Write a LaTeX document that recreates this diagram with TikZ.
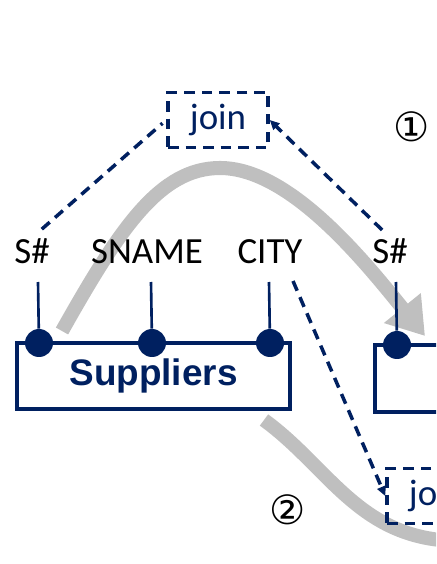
\documentclass[tikz,border=0pt]{standalone}
\usepackage{fontspec}
\setmainfont{Carlito}
\newfontfamily\relfont{Liberation Sans}
\newfontfamily\symfont{DejaVu Sans}
\usetikzlibrary{arrows.meta, positioning}
\definecolor{navy}{RGB}{0,32,96}
\definecolor{flowgray}{RGB}{191,191,191}

\begin{document}
\begin{tikzpicture}[
                  x = 0.02cm, y = -0.02cm,
                  attr/.style    = {font=\fontsize{21}{24}\selectfont, inner sep=0pt, anchor=base},
                  key/.style     = {circle, fill=navy, inner sep=0pt, minimum size=0.56cm},
                  stem/.style    = {navy, line width=1.5pt},
                  rel/.style     = {draw=navy, line width=2pt, text=navy, font=\relfont\bfseries\fontsize{21}{24}\selectfont},
                  joinbox/.style = {draw=navy, line width=2pt, dash pattern=on 6pt off 4pt, text=navy,
                                    font=\fontsize{21}{24}\selectfont, minimum width=2cm, minimum height=1.1cm},
                  link/.style    = {navy, line width=2pt, dash pattern=on 6pt off 4pt},
                  tip/.style     = {-{Triangle[length=5.5pt, width=5pt]}},
                  flow/.style    = {flowgray, line width=8pt, -{Triangle[length=0.72cm, width=0.9cm]}},
                  stepmark/.style = {font=\symfont\fontsize{23}{26}\selectfont, inner sep=0pt}
            ]
            \useasboundingbox (0,0) rectangle (436,564);
            \clip (0,0) rectangle (436,564);

            % grey flow arrows behind everything
            \draw[flow] (62,331) .. controls (120,228) and (160,168) .. (220,168)
                                 .. controls (290,168) and (365,262) .. (425,336);
            \draw[flowgray, line width=8pt] (264,420) .. controls (330,468) and (360,541) .. (460,541);

            % relations
            \node[rel, minimum width=5.46cm, minimum height=1.32cm] (sup) at (153.5,376) {Suppliers};
            \node[rel, minimum width=2.5cm, minimum height=1.34cm] (shp) at (437.5,378.5) {};

            % attribute names
            \node[attr] (sLeft)  at (32,263)  {S\#};
            \node[attr] (sname)  at (147,263) {SNAME};
            \node[attr] (city)   at (270,263) {CITY};
            \node[attr] (sRight) at (390,263) {S\#};

            % stems down to the key dots
            \coordinate (kSTop)    at (38,282);
            \coordinate (kNameTop) at (151,282);
            \coordinate (kCityTop) at (269,282);
            \coordinate (kRTop)    at (396,282);
            \node[key] (kS)    at (39,343)  {};
            \node[key] (kName) at (152,343) {};
            \node[key] (kCity) at (270,343) {};
            \node[key] (kR)    at (397,345) {};
            \draw[stem] (kSTop) -- (kS);
            \draw[stem] (kNameTop) -- (kName);
            \draw[stem] (kCityTop) -- (kCity);
            \draw[stem] (kRTop) -- (kR);

            % join operators
            \node[joinbox] (join1) at (218,120) {join};
            \node[joinbox] (join2) at (437,496) {join};

            \draw[link, shorten <=0.26cm, shorten >=0.1cm] (sLeft.north) -- (join1.west);
            \draw[link, tip, shorten <=0.22cm] (sRight.north) -- (join1.east);
            \coordinate (cityFoot) at (293,281);
            \draw[link, tip] (cityFoot) -- (join2.west);

            % step numbers
            \node[stepmark] (one) at (412,127) {①};
            \node[stepmark] (two) at (288,510) {②};
      \end{tikzpicture}
\end{document}
